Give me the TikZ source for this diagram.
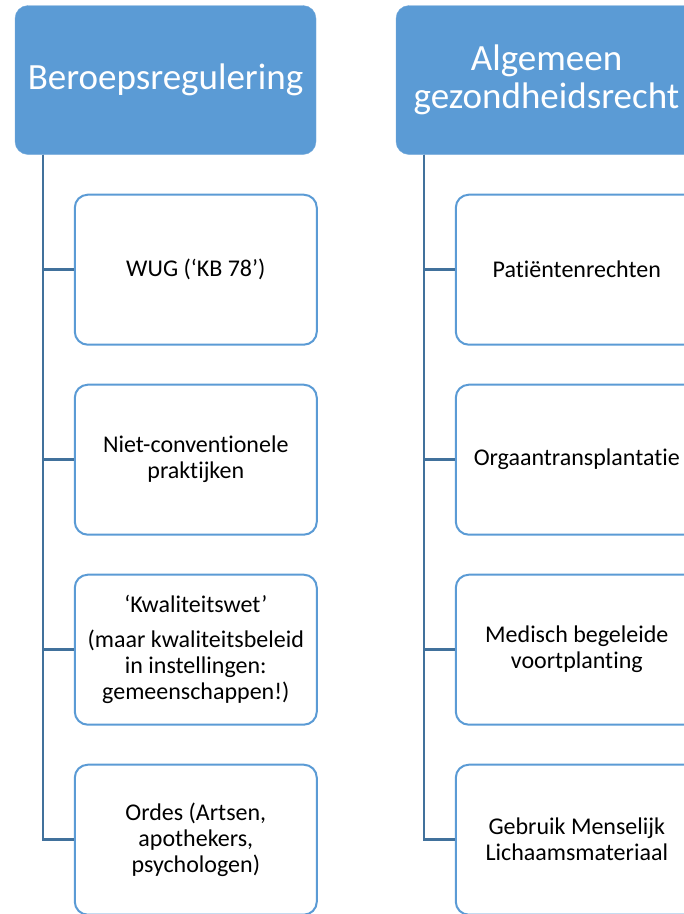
\documentclass[tikz,border=0pt]{standalone}
\usepackage{fontspec}
\setmainfont{Carlito}[Ligatures = NoCommon]
\usetikzlibrary{positioning}

\definecolor{hdrblue}{HTML}{5B9BD5}
\definecolor{railblue}{HTML}{41719C}

\tikzset{
  header/.style = {draw = hdrblue!85!white, fill = hdrblue, rounded corners = 13pt,
    text = white, minimum width = 301pt, minimum height = 149pt, align = center,
    inner sep = 0pt, font = \fontsize{37}{38}\selectfont},
  item/.style = {draw = hdrblue, line width = 2pt, fill = white, rounded corners = 13pt,
    minimum width = 242pt, minimum height = 150pt, align = center,
    inner sep = 0pt, font = \fontsize{24}{26}\selectfont},
  rail/.style = {draw = railblue, line width = 2.6pt}
}

\begin{document}
\begin{tikzpicture}[x = 1pt, y = 1pt]
  \useasboundingbox (0, 0) rectangle (684, -914);
  \clip (0, 0) rectangle (684, -914);

  \pgfmathsetmacro{\gap}{38}

  % column heads
  \node[header] (hdrA) at (165.5, -80) {Beroepsregulering};
  \node[header] (hdrB) at (546.5, -80) {Algemeen\\gezondheidsrecht};

  \coordinate (railA) at ([xshift = 28pt]hdrA.south west);
  \coordinate (railB) at ([xshift = 28pt]hdrB.south west);

  % left column
  \node[item, below right = 39pt and 31pt of railA] (itemA1) {WUG (‘KB 78’)};
  \node[item, below = \gap pt of itemA1] (itemA2) {Niet-conventionele\\praktijken};
  \node[item, below = \gap pt of itemA2] (itemA3) {‘Kwaliteitswet’\\[9pt]
    (maar kwaliteitsbeleid\\in instellingen:\\gemeenschappen!)};
  \node[item, below = \gap pt of itemA3] (itemA4) {Ordes (Artsen,\\apothekers,\\psychologen)};

  % right column
  \node[item, below right = 39pt and 31pt of railB] (itemB1) {Patiëntenrechten};
  \node[item, below = \gap pt of itemB1] (itemB2) {Orgaantransplantatie};
  \node[item, below = \gap pt of itemB2] (itemB3) {Medisch begeleide\\voortplanting};
  \node[item, below = \gap pt of itemB3] (itemB4) {Gebruik Menselijk\\Lichaamsmateriaal};

  \foreach \col in {A, B}{
    \foreach \i in {1, 2, 3, 4}{
      \draw[rail] (rail\col) |- (item\col\i.west);
    }
  }
\end{tikzpicture}
\end{document}
